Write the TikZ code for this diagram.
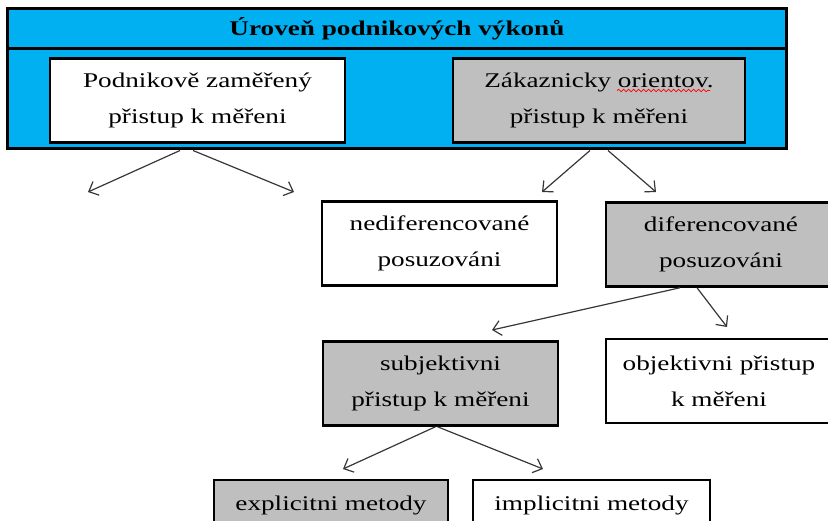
\documentclass[tikz,border=0pt]{standalone}
\usepackage{fontspec}
\setmainfont{Liberation Serif}[FakeStretch=1.3]
\usetikzlibrary{arrows.meta, positioning, calc, decorations.pathmorphing}
\definecolor{LevelBlue}{RGB}{0, 176, 240}
\definecolor{BoxGray}{RGB}{191, 191, 191}
\definecolor{ArrowGray}{RGB}{55, 55, 55}

\begin{document}
\begin{tikzpicture}[
        x=1bp, y=-1bp,
        box/.style={rectangle, draw=black, fill=white, line width=2.5bp, minimum width=#1, minimum height=84bp, inner sep=2bp, align=center, font=\fontsize{21}{36}\selectfont},
        box/.default=235bp,
        graybox/.style={box=#1, fill=BoxGray},
        graybox/.default=235bp,
        link/.style={-{Straight Barb[length=8bp, width=15bp]}, draw=ArrowGray, line width=1.2bp},
        spellmark/.style={draw=red, line width=0.7bp, decorate, decoration={snake, amplitude=1.2bp, segment length=5bp}}
    ]
        \useasboundingbox (0,0) rectangle (828,521);

        % Performance level frame
        \node[draw=black, fill=LevelBlue, line width=3bp, minimum width=778bp, minimum height=140bp, inner sep=0pt] (perf) at (397,79) {};
        \node[draw=black, line width=3bp, minimum width=778bp, minimum height=40bp, inner sep=0pt, font=\fontsize{21}{25}\selectfont\bfseries] (title) at (397,29) {Úroveň podnikových výkonů};
        \node[box=295bp] (podnik) at (197.5,100.5) {Podnikově zaměřený\\přistup k měřeni};
        \node[graybox=292bp] (zakaz) at (599,100.5) {Zákaznicky orientov.\\přistup k měřeni};
        \draw[spellmark] ($(zakaz.center)+(18,-10)$) -- ($(zakaz.center)+(111,-10)$);

        % Assessment
        \node[box] (nedif) at (439.5,243.5) {nediferencované\\posuzováni};
        \node[graybox=230bp] (dif) at (721,244.5) {diferencované\\posuzováni};

        % Approaches
        \node[graybox] (subj) at (440.5,383.5) {subjektivni\\přistup k měřeni};
        \node[box=226bp] (obj) at (719,381) {objektivni přistup\\k měřeni};

        % Methods
        \node[graybox=234bp, minimum height=50bp] (expl) at (331,505) {explicitni metody};
        \node[box=237bp, minimum height=50bp] (impl) at (591.5,505) {implicitni metody};

        % Arrow ends
        \coordinate (podL) at (88,192);
        \coordinate (podR) at (294,192);
        \coordinate (zakL) at (542,192);
        \coordinate (zakR) at (656,192);
        \coordinate (difL) at (492,330);
        \coordinate (difR) at (727,327);
        \coordinate (subL) at (343,469);
        \coordinate (subR) at (543,469);

        % Connections
        \draw[link] ($(podnik.south |- perf.south)+(-17.5,0)$) -- (podL);
        \draw[link] ($(podnik.south |- perf.south)+(-4.5,0)$) -- (podR);
        \draw[link] ($(zakaz.south |- perf.south)+(-9,0)$) -- (zakL);
        \draw[link] ($(zakaz.south |- perf.south)+(9,0)$) -- (zakR);
        \draw[link] ($(dif.south)+(-41,0)$) -- (difL);
        \draw[link] ($(dif.south)+(-24,0)$) -- (difR);
        \draw[link] ($(subj.south)+(-5,0)$) -- (subL);
        \draw[link] ($(subj.south)+(-3,0)$) -- (subR);
    \end{tikzpicture}
\end{document}
